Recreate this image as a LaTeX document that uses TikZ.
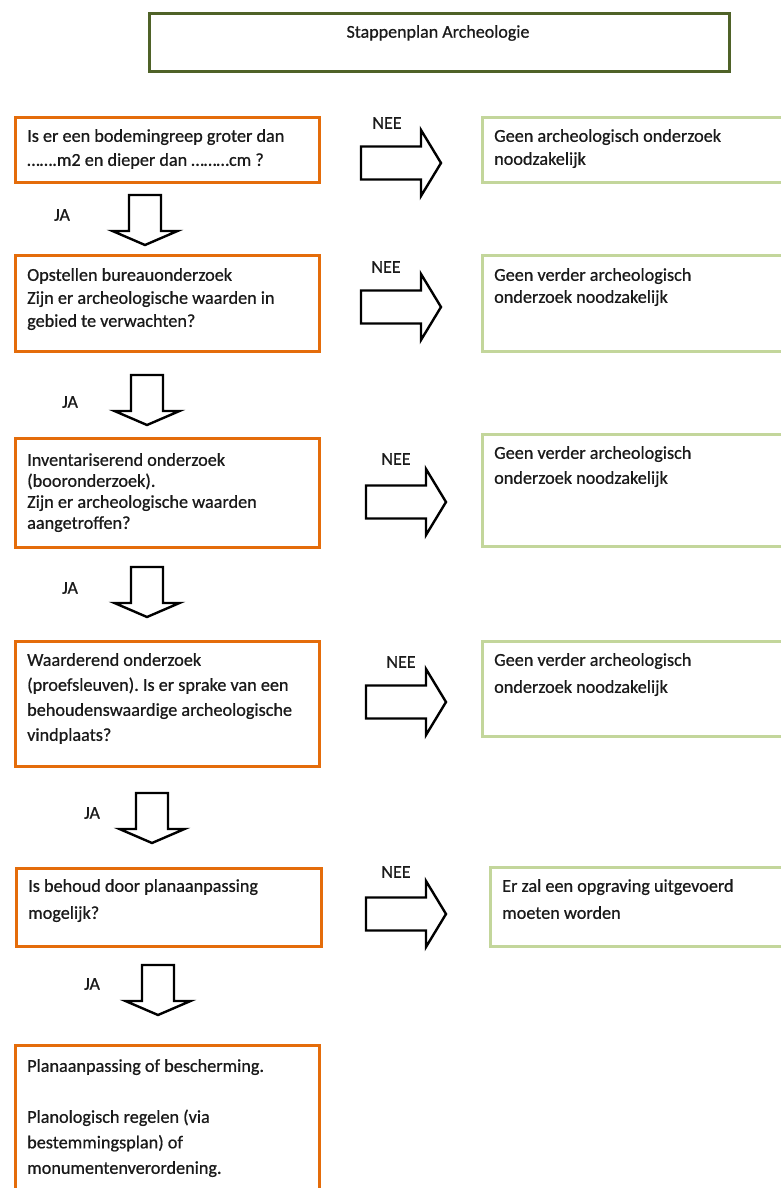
\documentclass[tikz,border=0pt]{standalone}
\usepackage{fontspec}
\setmainfont{Carlito}[FakeBold=0.7]
\frenchspacing
\definecolor{orangeb}{HTML}{E46C0A}
\definecolor{greenb}{HTML}{C3D69B}
\definecolor{olive}{HTML}{4F6228}
\definecolor{txtc}{HTML}{1A1A1A}
\begin{document}
\begin{tikzpicture}[x=1pt,y=-1pt,
  obox/.style={draw=orangeb, line width=2.8pt, anchor=north west, inner sep=0pt},
  gbox/.style={draw=greenb, line width=2.8pt, anchor=north west, inner sep=0pt},
  tbox/.style={draw=olive, line width=3.2pt, anchor=north west, inner sep=0pt},
  txt/.style={anchor=north west, inner sep=0pt, align=left, text=txtc},
  lbl/.style={inner sep=0pt, text=txtc, font=\fontsize{18}{20}\selectfont},
  blk/.style={draw=black, line width=2.4pt, fill=white, line join=miter},
  rarrow/.pic={\draw[blk] (0,-16.5) -- (60,-16.5) -- (60,-33) -- (80,0) -- (60,33) -- (60,16.5) -- (0,16.5) -- cycle;},
  darrow/.pic={\draw[blk] (-16,0) -- (16,0) -- (16,36) -- (32.5,36) -- (0,50) -- (-32.5,36) -- (-16,36) -- cycle;}
]
\useasboundingbox (0,0) rectangle (781,1188);
\fill[white] (0,0) rectangle (781,1188);
\clip (0,0) rectangle (781,1188);

% title
\node[tbox, minimum width=580, minimum height=58] (title) at (148,12) {};
\node[lbl, font=\fontsize{18}{20}\selectfont] (titletxt) at (438,33) {Stappenplan Archeologie};

% orange step boxes
\node[obox, minimum width=304, minimum height=65]  (b1) at (14,116) {};
\node[obox, minimum width=304, minimum height=96]  (b2) at (14,254) {};
\node[obox, minimum width=304, minimum height=109] (b3) at (14,437) {};
\node[obox, minimum width=304, minimum height=125] (b4) at (14,640) {};
\node[obox, minimum width=305, minimum height=78]  (b5) at (15,867) {};
\node[obox, minimum width=304, minimum height=170] (b6) at (14,1044) {};

\node[txt, font=\fontsize{18.2}{24}\selectfont] (t1) at (27,129) {Is er een bodemingreep groter dan\\…….m2 en dieper dan ………cm ?};
\node[txt, font=\fontsize{18.2}{23}\selectfont] (t2) at (27,268) {Opstellen bureauonderzoek\\Zijn er archeologische waarden in\\gebied te verwachten?};
\node[txt, font=\fontsize{18.2}{21}\selectfont] (t3) at (27,453) {Inventariserend onderzoek\\(booronderzoek).\\Zijn er archeologische waarden\\aangetroffen?};
\node[txt, font=\fontsize{18.2}{25}\selectfont] (t4) at (27,653) {Waarderend onderzoek\\(proefsleuven). Is er sprake van een\\behoudenswaardige archeologische\\vindplaats?};
\node[txt, font=\fontsize{18.2}{27}\selectfont] (t5) at (28,879) {Is behoud door planaanpassing\\mogelijk?};
\node[txt, font=\fontsize{18.2}{25.5}\selectfont] (t6) at (27,1059) {Planaanpassing of bescherming.\\[25.5pt]Planologisch regelen (via\\bestemmingsplan) of\\monumentenverordening.};

% green outcome boxes
\node[gbox, minimum width=330, minimum height=65]  (g1) at (481,116) {};
\node[gbox, minimum width=330, minimum height=96]  (g2) at (481,254) {};
\node[gbox, minimum width=330, minimum height=112] (g3) at (481,433) {};
\node[gbox, minimum width=330, minimum height=95]  (g4) at (481,640) {};
\node[gbox, minimum width=330, minimum height=79]  (g5) at (489,866) {};

\node[txt, font=\fontsize{18.2}{23}\selectfont] (u1) at (494,129) {Geen archeologisch onderzoek\\noodzakelijk};
\node[txt, font=\fontsize{18.2}{22}\selectfont] (u2) at (494,268) {Geen verder archeologisch\\onderzoek noodzakelijk};
\node[txt, font=\fontsize{18.2}{25}\selectfont] (u3) at (494,446) {Geen verder archeologisch\\onderzoek noodzakelijk};
\node[txt, font=\fontsize{18.2}{27}\selectfont] (u4) at (494,653) {Geen verder archeologisch\\onderzoek noodzakelijk};
\node[txt, font=\fontsize{18.2}{27}\selectfont] (u5) at (502,879) {Er zal een opgraving uitgevoerd\\moeten worden};

% NEE arrows
\pic (a1) at (361,163) {rarrow};
\pic (a2) at (361,307) {rarrow};
\pic (a3) at (366,502) {rarrow};
\pic (a4) at (366,702) {rarrow};
\pic (a5) at (366,914) {rarrow};
\node[lbl] (n1) at (387,123) {NEE};
\node[lbl] (n2) at (386,267) {NEE};
\node[lbl] (n3) at (396,459) {NEE};
\node[lbl] (n4) at (401,662) {NEE};
\node[lbl] (n5) at (396,872) {NEE};

% JA arrows
\pic (d1) at (145,195) {darrow};
\pic (d2) at (147,375) {darrow};
\pic (d3) at (147,567) {darrow};
\pic (d4) at (152,793) {darrow};
\pic (d5) at (158,965) {darrow};
\node[lbl] (j1) at (62,215) {JA};
\node[lbl] (j2) at (70,402) {JA};
\node[lbl] (j3) at (70,588) {JA};
\node[lbl] (j4) at (92,813) {JA};
\node[lbl] (j5) at (92,984) {JA};
\end{tikzpicture}
\end{document}
